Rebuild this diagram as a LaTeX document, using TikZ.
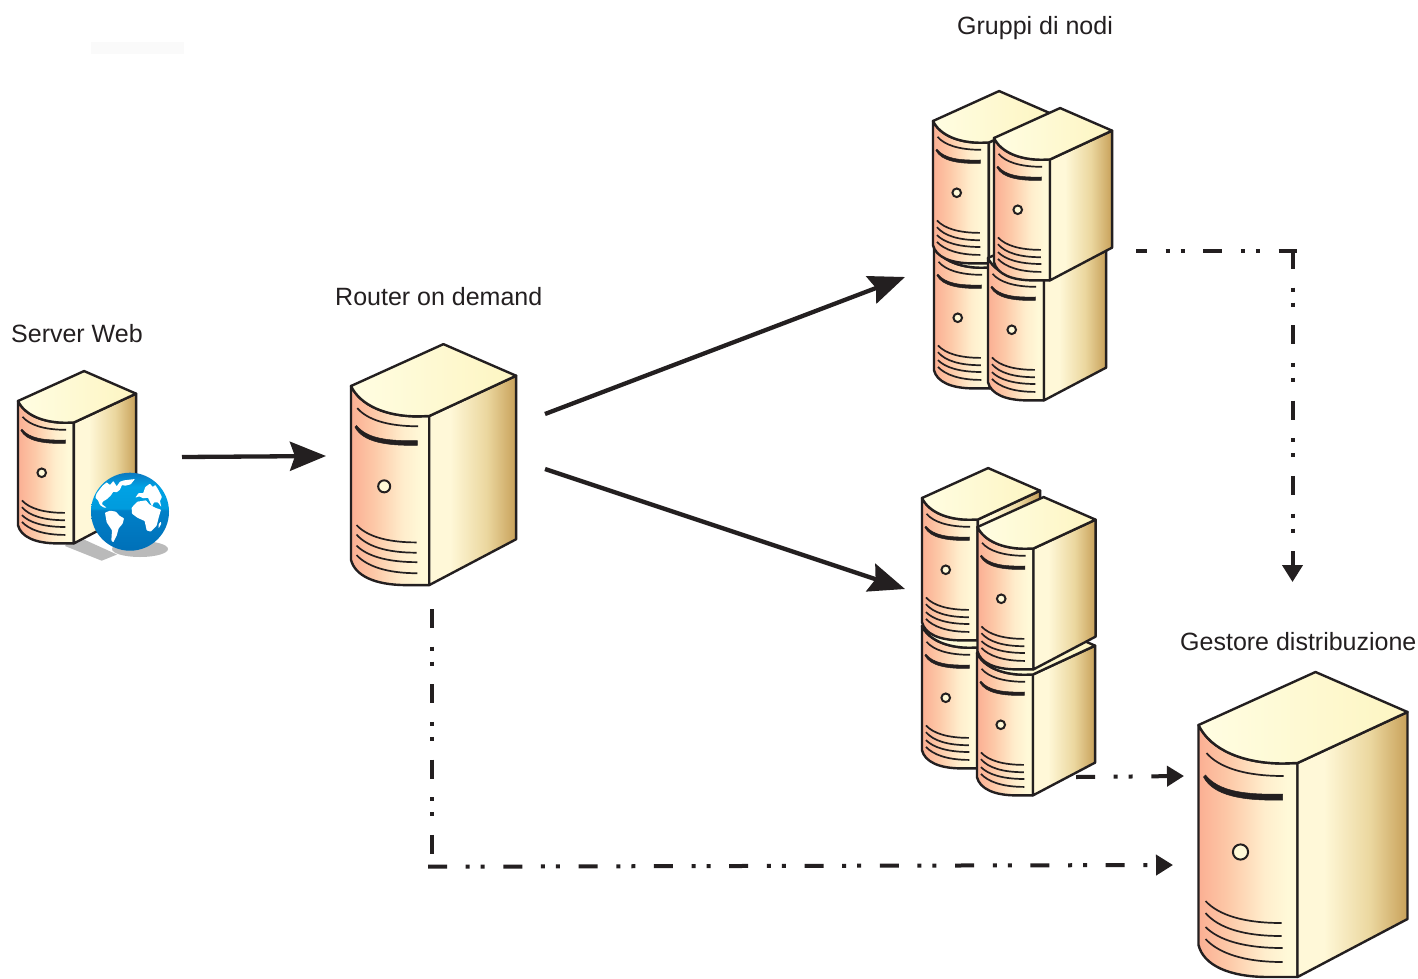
\documentclass[tikz,border=0pt]{standalone}
\usepackage{fontspec}
\setmainfont{Liberation Sans}
\usetikzlibrary{arrows.meta}
\definecolor{ink}{HTML}{231F20}
\definecolor{fa}{HTML}{FBAF93}\definecolor{fb}{HTML}{FDC9A8}\definecolor{fc}{HTML}{FFEDCC}\definecolor{fd}{HTML}{FFF9D8}
\definecolor{sa}{HTML}{FFF8D8}\definecolor{sb}{HTML}{EBD79F}\definecolor{sc}{HTML}{C8A15A}
\definecolor{ta}{HTML}{FFFDE2}\definecolor{tb}{HTML}{FDF5C2}
\definecolor{ga}{HTML}{0070B8}\definecolor{gb}{HTML}{0080C8}\definecolor{gc}{HTML}{009BDD}\definecolor{gd}{HTML}{00A2E4}\definecolor{ge}{HTML}{0C78C0}
\pgfdeclarehorizontalshading{srvfront}{100bp}{color(0bp)=(fa); color(25bp)=(fa); color(40bp)=(fb); color(58bp)=(fc); color(70bp)=(fd); color(100bp)=(fd)}
\pgfdeclarehorizontalshading{srvside}{100bp}{color(0bp)=(sa); color(25bp)=(sa); color(37bp)=(sa); color(58bp)=(sb); color(75bp)=(sc); color(100bp)=(sc)}
\pgfdeclarehorizontalshading{srvtop}{100bp}{color(0bp)=(ta); color(25bp)=(ta); color(75bp)=(tb); color(100bp)=(tb)}
\pgfdeclareverticalshading{globeshade}{100bp}{color(0bp)=(ga); color(25bp)=(ga); color(51bp)=(gb); color(52bp)=(gc); color(66bp)=(gd); color(75bp)=(ge); color(100bp)=(ge)}
\tikzset{
  outline/.style={draw=ink,line width=2.4pt,line join=round},
  detail/.style={draw=ink,line width=1.7pt},
  label/.style={anchor=base west,inner sep=0pt,text=ink,font=\fontsize{25}{30}\selectfont},
  flow/.style={draw=ink,line width=4.3pt,-{Stealth[length=36pt,width=29pt,inset=5pt]}},
  dashdot/.style={draw=ink,line width=4pt,dash pattern=on 19pt off 18.65pt on 4pt off 11pt on 4pt off 18.65pt},
  dashdotarrow/.style={dashdot,-{Triangle[length=17pt,width=20pt]}},
  land/.style={fill=white,rounded corners=.6pt},
  server/.pic={
    \path[shading=srvfront,outline] (0,0) .. controls (12,25) and (45,38.5) .. (85,38.5) -- (99,38) -- (99,252) -- (70,252) .. controls (30,252) and (5,240) .. (0,220) -- cycle;
    \path[shading=srvside,outline] (99,38) -- (209,-13) -- (209,194) -- (99,252) -- cycle;
    \path[shading=srvtop,outline] (0,0) -- (117,-53) -- (209,-13) -- (99,38) -- (85,38.5) .. controls (45,38.5) and (12,25) .. (0,0) -- cycle;
    \draw[detail] (8,28) .. controls (20,42) and (45,51) .. (85,51);
    \filldraw[draw=ink,fill=ink,line width=.5pt] (7,50) .. controls (20,66) and (45,70) .. (84,69) -- (84,75) .. controls (45,76) and (15,71) .. (5,52) -- cycle;
    \draw[draw=ink,fill=fd,line width=2pt] (42,127) circle[radius=7.6];
    \draw[detail] (7,176) .. controls (20,190) and (45,198) .. (83,198);
    \draw[detail] (7,188) .. controls (20,203) and (45,211) .. (83,211);
    \draw[detail] (7,202) .. controls (20,215) and (45,223) .. (84,223);
    \draw[detail] (7,214) .. controls (20,228) and (45,237) .. (84,237);
  }
}
\begin{document}
\begin{tikzpicture}[x=1pt,y=-1pt]
\useasboundingbox (0,0) rectangle (1418,978);
\fill[white] (0,0) rectangle (1418,978);
\fill[black!2] (90.7,41.7) rectangle (184,54);

% labels
\node[label] (lweb) at (11,342.5) {Server Web};
\node[label] (lrouter) at (335,305) {Router on demand};
\node[label] (lgroups) at (957,34) {Gruppi di nodi};
\node[label] (lmanager) at (1180,650) {Gestore distribuzione};

% web server with globe
\fill[black!27] (65,546) -- (101.7,560.7) -- (117,554.5) -- (74,535) -- cycle;
\fill[black!27] (140,549) ellipse[x radius=28,y radius=8];
\pic[scale=.565] (web) at (18,401) {server};
\begin{scope}
\clip (130,511.7) circle[radius=39];
\shade[shading=globeshade] (91,472.7) rectangle (169,550.7);
\begin{scope}[shift={(60,465)},x=.3333pt,y=-.3333pt]
% North America and Greenland
\fill[land] (128,62) -- (140,52) -- (150,60) -- (160,48) -- (170,64) -- (180,50) -- (192,46) -- (225,42) -- (212,58) -- (196,62) -- (186,60) -- (180,74) -- (170,82) -- (160,80) -- (152,92) -- (140,103) -- (128,110) -- (126,118) -- (140,128) -- (132,128) -- (120,120) -- (114,106) -- (106,98) -- (110,85) -- (120,72) -- cycle;
% South America
\fill[land] (135,143) -- (150,137) -- (168,140) -- (178,152) -- (192,160) -- (188,176) -- (176,190) -- (170,212) -- (160,232) -- (154,226) -- (156,196) -- (140,172) -- cycle;
% Africa
\fill[land] (215,128) -- (232,110) -- (258,106) -- (268,118) -- (285,128) -- (303,134) -- (296,158) -- (290,182) -- (272,200) -- (260,196) -- (254,168) -- (232,158) -- (216,146) -- cycle;
\fill[land] (296,178) -- (302,170) -- (304,176) -- (296,190) -- cycle;
% Eurasia
\fill[land] (226,98) -- (236,84) -- (250,84) -- (256,66) -- (270,56) -- (278,66) -- (286,60) -- (296,76) -- (306,96) -- (300,108) -- (304,126) -- (294,112) -- (282,112) -- (276,124) -- (264,98) -- (250,100) -- (238,94) -- cycle;
\end{scope}
\end{scope}

% router
\pic[scale=.79] (router) at (351,386) {server};

% upper node group
\pic[scale=.565] (na) at (934,246) {server};
\pic[scale=.565] (nb) at (933,121) {server};
\pic[scale=.565] (nc) at (988,258) {server};
\pic[scale=.565] (nd) at (994,138) {server};

% lower node group
\pic[scale=.565] (ma) at (922,626) {server};
\pic[scale=.565] (mb) at (922,498) {server};
\pic[scale=.565] (mc) at (977,653) {server};
\pic[scale=.565] (md) at (977.5,527) {server};

% deployment manager
\pic (manager) at (1198.5,725) {server};

% connector ends
\coordinate (c1) at (182,457);
\coordinate (c2) at (326,456);
\coordinate (c3) at (545,414);
\coordinate (c4) at (905,277);
\coordinate (c5) at (545,469);
\coordinate (c6) at (905,589);
\coordinate (c7) at (1136,250.7);
\coordinate (c8) at (1297,250.7);
\coordinate (c9) at (1292.5,250);
\coordinate (c10) at (1292.5,582);
\coordinate (c11) at (1076,777);
\coordinate (c12) at (1184,776);
\coordinate (c13) at (431.7,609);
\coordinate (c14) at (431.7,853.5);
\coordinate (c15) at (428,866.7);
\coordinate (c16) at (1173,865);

\draw[flow] (c1) -- (c2);
\draw[flow] (c3) -- (c4);
\draw[flow] (c5) -- (c6);
\draw[dashdot,dash phase=8pt] (c7) -- (c8);
\draw[dashdotarrow] (c9) -- (c10);
\draw[dashdotarrow] (c11) -- (c12);
\draw[dashdot] (c13) -- (c14);
\draw[dashdotarrow] (c15) -- (c16);
\end{tikzpicture}
\end{document}
